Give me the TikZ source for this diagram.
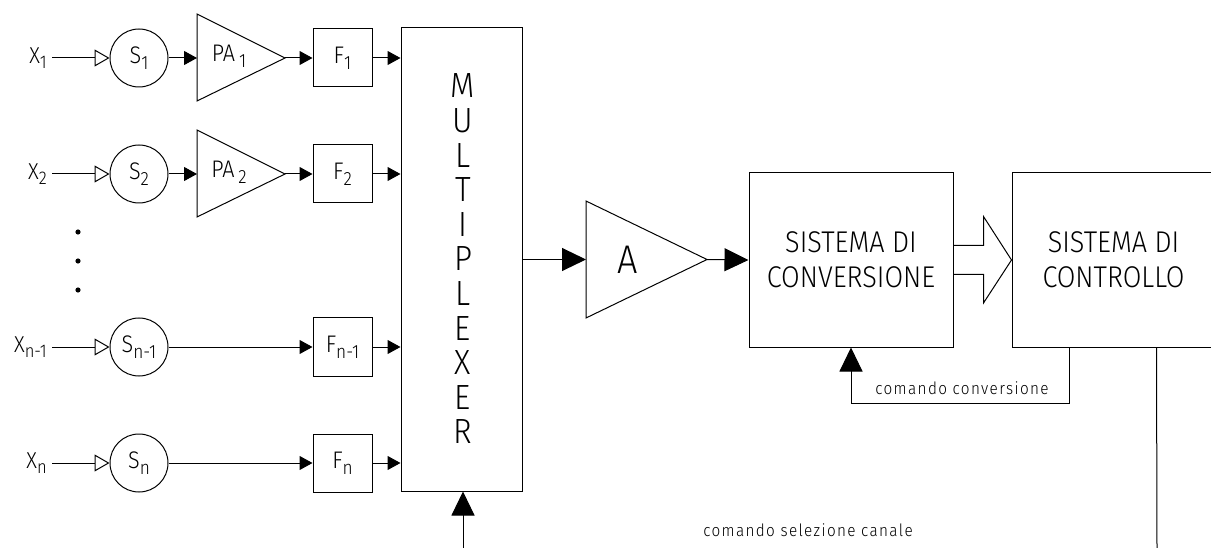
\documentclass[tikz,border=0pt]{standalone}
\usepackage{fontspec}
\setmainfont{Fira Sans Light}[FakeStretch=0.9]
\newfontfamily\notefont{Fira Sans Light}[FakeStretch=0.9,LetterSpace=8]
\usetikzlibrary{arrows.meta,calc}

% lowered, slightly reduced index
\newcommand\lowsub[1]{\raisebox{-0.25em}{\scalebox{0.8}{#1}}}
\newcommand\fsz[1]{\fontsize{#1}{#1}\selectfont}

\tikzset{
  wire/.style={line width=1pt},
  tipS/.style={wire,-{Triangle[length=13pt,width=14pt]}},
  tipO/.style={wire,-{Triangle[open,length=15pt,width=17pt]}},
  tipB/.style={wire,-{Triangle[length=24pt,width=23pt]}},
  lbl/.style={inner sep=0pt,font=\fsz{23}},
  sensor/.style={draw,line width=1pt,circle,minimum size=58pt,inner sep=0pt,font=\fsz{24}},
  filterbox/.style={draw,line width=1pt,minimum width=59pt,minimum height=58pt,inner sep=0pt,font=\fsz{24}},
  bigbox/.style={draw,line width=1pt,minimum width=204pt,minimum height=174pt,inner sep=0pt,align=center,font=\fontsize{30}{35}\selectfont},
  amp/.style={line width=1pt,line join=miter},
  note/.style={inner sep=0pt,font=\notefont\fsz{17}},
}

\begin{document}
\begin{tikzpicture}[x=1pt,y=-1pt]
\useasboundingbox (0,0) rectangle (1211,548);

% ---- channel 1
\node[lbl,anchor=east] (x1) at (47,58) {X\lowsub{1}};
\node[sensor] (s1) at (139,58) {S\lowsub{1}};
\coordinate (pa1in) at (197,58);
\coordinate (pa1out) at (285,58);
\draw[amp] (197,14) -- (pa1out) -- (197,101) -- cycle;
\node[inner sep=0pt,font=\fsz{24}] (pa1) at (229,56) {PA\,\lowsub{1}};
\node[filterbox] (f1) at (342.5,58) {F\lowsub{1}};

% ---- channel 2
\node[lbl,anchor=east] (x2) at (47,174) {X\lowsub{2}};
\node[sensor] (s2) at (139,174) {S\lowsub{2}};
\coordinate (pa2in) at (197,174);
\coordinate (pa2out) at (285,174);
\draw[amp] (197,130) -- (pa2out) -- (197,217) -- cycle;
\node[inner sep=0pt,font=\fsz{24}] (pa2) at (229,172) {PA\,\lowsub{2}};
\node[filterbox] (f2) at (342.5,174) {F\lowsub{2}};

% ---- omitted channels
\fill (78,232) circle (2.6);
\fill (78,261) circle (2.6);
\fill (78,290) circle (2.6);

% ---- channel n-1
\node[lbl,anchor=east] (x3) at (47,347) {X\lowsub{n-1}};
\node[sensor] (s3) at (139,347) {S\lowsub{n-1}};
\node[filterbox] (f3) at (342.5,347) {F\lowsub{n-1}};

% ---- channel n
\node[lbl,anchor=east] (x4) at (47,463) {X\lowsub{n}};
\node[sensor] (s4) at (139,463) {S\lowsub{n}};
\node[filterbox] (f4) at (342.5,463) {F\lowsub{n}};

% ---- multiplexer
\node[draw,line width=1pt,minimum width=121pt,minimum height=463pt,inner sep=0pt] (mux) at (461.5,259.5) {};
\node[inner sep=0pt,align=center,font=\fontsize{35}{34.6}\selectfont] (muxlbl) at (463,259)
  {M\\U\\L\\T\\I\\P\\L\\E\\X\\E\\R};

% ---- amplifier
\coordinate (ain) at (586,259.5);
\coordinate (aout) at (707,259.5);
\draw[amp] (586,201) -- (aout) -- (586,318) -- cycle;
\node[inner sep=0pt,font=\fsz{40}] (alabel) at (628,260) {A};

% ---- conversion and control
\node[bigbox] (conv) at (851,260) {SISTEMA DI\\CONVERSIONE};
\node[bigbox,minimum width=203pt] (ctrl) at (1113.5,260) {SISTEMA DI\\CONTROLLO};

% ---- input connections
\foreach \i in {1,2,3,4}{
  \draw[tipO] ($(x\i.east)+(5,0)$) -- (s\i.west);
  \draw[tipS] (f\i.east) -- (f\i.east -| mux.west);
}
\draw[tipS] (s1.east) -- (pa1in);
\draw[tipS] (pa1out) -- (f1.west);
\draw[tipS] (s2.east) -- (pa2in);
\draw[tipS] (pa2out) -- (f2.west);
\draw[tipS] (s3.east) -- (f3.west);
\draw[tipS] (s4.east) -- (f4.west);

% ---- main signal path
\draw[tipB] (mux.east) -- (ain);
\draw[tipB] (aout) -- (conv.west);

% ---- parallel data transfer (hollow arrow)
\draw[wire,line join=miter] ($(conv.east)+(0,-14.5)$) -- ++(30,0) -- ++(0,-29)
  -- (ctrl.west) -- ($(conv.east)+(30,43)$) -- ++(0,-28.5) -- ($(conv.east)+(0,14.5)$);

% ---- conversion command
\coordinate (fb) at ($(ctrl.south west)+(58,0)$);
\draw[tipB] (fb) -- ++(0,56) -| (conv.south);
\node[note] (cmdconv) at (962,388) {comando conversione};

% ---- channel selection command
\coordinate (sel) at ($(ctrl.south west)+(145,0)$);
\coordinate (selend) at (1157,548);
\draw[wire] (sel) -- (selend);
\node[note] (cmdsel) at (808,530) {comando selezione canale};
\coordinate (muxctl) at (463,548);
\draw[tipB] (muxctl) -- (muxctl |- mux.south);
\end{tikzpicture}
\end{document}
